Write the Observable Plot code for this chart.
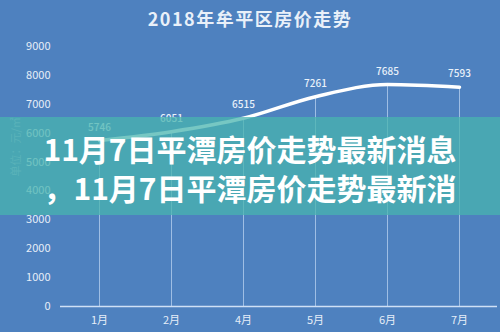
<!DOCTYPE html>
<html>
<head>
<meta charset="utf-8">
<script src="https://cdn.jsdelivr.net/npm/d3@7"></script>
<script src="https://cdn.jsdelivr.net/npm/@observablehq/plot@0.6"></script>
<style>
  html, body { margin: 0; padding: 0; background: #4e81bf; }
  #wrap { position: relative; width: 500px; height: 332px; overflow: hidden; background: #4e81bf; }
  #wrap svg { display: block; }
  .title {
    position: absolute; left: 0; top: 6px; width: 500px; text-align: center;
    font-family: "Noto Sans CJK SC", sans-serif; font-weight: 700; font-size: 18px;
    letter-spacing: 1.5px; color: #e9f0f9; line-height: 24px;
  }
  .band {
    position: absolute; left: 0; top: 117px; width: 500px; height: 98px;
    background: rgba(72, 180, 175, 0.75);
  }
  .headline {
    position: absolute; left: 0; top: 129px; width: 500px; text-align: center;
    font-family: "Noto Sans CJK SC", sans-serif; font-weight: 700; font-size: 30px;
    line-height: 39px; color: #ffffff; white-space: nowrap;
  }
</style>
</head>
<body>
<div id="wrap"></div>
<script>
// Average housing price per month, 2018 (元/㎡)
const months = ["1月", "2月", "4月", "5月", "6月", "7月"];
const prices = [5746, 6051, 6515, 7261, 7685, 7593];
const yTicks = [0, 1000, 2000, 3000, 4000, 5000, 6000, 7000, 8000, 9000];

const chartTitle = "2018年牟平区房价走势";
const yLabel = "单位：元/㎡";
const headlineLines = ["11月7日平潭房价走势最新消息", "，11月7日平潭房价走势最新消"];

const data = months.map((m, i) => ({month: m, price: prices[i]}));

const light = "#e6eef8";

const chart = Plot.plot({
  width: 500,
  height: 332,
  marginTop: 46,
  marginBottom: 26,
  marginLeft: 60,
  marginRight: 3,
  style: {
    background: "#4e81bf",
    fontFamily: "'Noto Sans CJK SC', 'Open Sans', sans-serif",
    fontSize: "11px",
    color: light
  },
  x: {type: "point", domain: months, padding: 0.5, label: null},
  y: {domain: [0, 9000], label: null},
  marks: [
    Plot.axisY({ticks: yTicks, tickFormat: d => String(d), tickSize: 0, tickPadding: 10, fill: light, label: null, fontSize: 11}),
    Plot.axisX({tickSize: 0, tickPadding: 10, fill: light, label: null, fontSize: 11}),
    // vertical drop lines from each point to the baseline
    Plot.ruleX(data, {x: "month", y1: 0, y2: "price", stroke: "#b4cdee", strokeWidth: 1, strokeOpacity: 0.8}),
    Plot.ruleY([0], {stroke: "#cfe0f5", strokeWidth: 1.5}),
    Plot.line(data, {x: "month", y: "price", stroke: "#ffffff", strokeWidth: 3.5, curve: "monotone-x"}),
    Plot.text(data, {x: "month", y: "price", text: d => String(d.price), dy: -13, fill: "#e9f1fa", fontSize: 10, fontWeight: 500}),
    // axis unit label
    Plot.text([yLabel], {frameAnchor: "left", dx: -44, rotate: -90, fill: "#ffffff", fillOpacity: 0.35, fontSize: 11})
  ]
});

const wrap = document.getElementById("wrap");
wrap.appendChild(chart);

const t = document.createElement("div");
t.className = "title";
t.textContent = chartTitle;
wrap.appendChild(t);

const band = document.createElement("div");
band.className = "band";
wrap.appendChild(band);

const h = document.createElement("div");
h.className = "headline";
h.innerHTML = headlineLines.join("<br>");
wrap.appendChild(h);
</script>
</body>
</html>
